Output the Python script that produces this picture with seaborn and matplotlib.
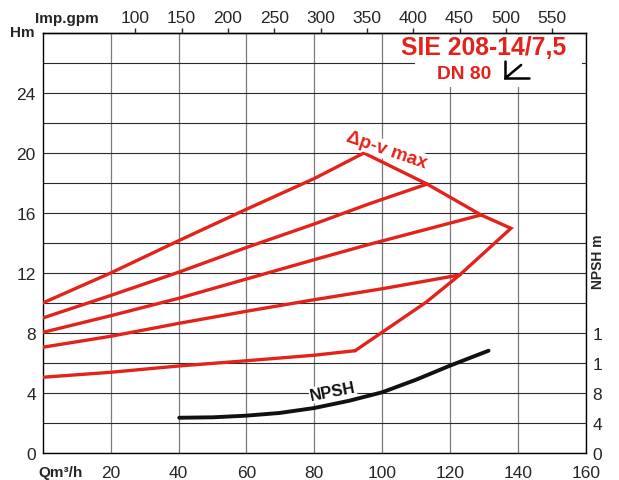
import numpy as np
import pandas as pd
import matplotlib
matplotlib.use("Agg")
import matplotlib.pyplot as plt
from matplotlib.patches import Rectangle
import seaborn as sns

# ---- pump curve data (flow in m3/h, head in m) ----
flow_10 = [0, 20, 40, 60, 80, 94.6]
head_10 = [10.0, 12.0, 14.15, 16.25, 18.3, 20.0]

flow_9 = [0, 20, 40, 60, 80, 96, 113.2]
head_9 = [9.0, 10.5, 12.05, 13.7, 15.27, 16.6, 17.93]

flow_8 = [0, 20, 40, 60, 80, 96, 129.1]
head_8 = [8.04, 9.15, 10.31, 11.6, 12.89, 13.9, 15.87]

flow_7 = [0, 20, 40, 60, 80, 100, 122.8]
head_7 = [7.05, 7.78, 8.64, 9.45, 10.22, 10.95, 11.87]

flow_5 = [0, 20, 40, 60, 80, 92.0]
head_5 = [5.05, 5.38, 5.8, 6.15, 6.52, 6.82]

# maximum curve (delta-p variable, max speed)
flow_max = [92.0, 99.2, 112.9, 122.8, 137.9, 129.1, 113.2, 94.6]
head_max = [6.82, 7.93, 10.05, 11.87, 14.98, 15.87, 17.93, 20.0]

# NPSH requirement (m)
flow_npsh = [40.2, 50.2, 60, 69.8, 80, 90.4, 100, 110, 119.9, 131.3]
npsh_m = [4.7, 4.76, 4.98, 5.34, 6.0, 6.98, 8.1, 9.78, 11.64, 13.64]

flow_ticks = [20, 40, 60, 80, 100, 120, 140, 160]
head_ticks = [0, 4, 8, 12, 16, 20, 24]
gpm_ticks = [100, 150, 200, 250, 300, 350, 400, 450, 500, 550]
npsh_ticks = [0, 4, 8, 12, 16]
npsh_tick_labels = ["0", "4", "8", "1", "1"]

GPM_PER_M3H = 3.666  # imperial gallons per minute in one m3/h

RED = "#e3231b"
TICK_FS = 12.5

sns.set_style("white")
plt.rcParams["font.family"] = ["Liberation Sans", "DejaVu Sans"]
plt.rcParams["axes.linewidth"] = 1.0

fig = plt.figure(figsize=(6.19, 4.81), dpi=100)
ax = fig.add_axes([42.7 / 619, 27 / 481, (586 - 42.7) / 619, (454 - 34) / 481])

curves = [(flow_10, head_10), (flow_9, head_9), (flow_8, head_8),
          (flow_7, head_7), (flow_5, head_5), (flow_max, head_max)]
for q, h in curves:
    df = pd.DataFrame({"Q": q, "H": h})
    sns.lineplot(data=df, x="Q", y="H", sort=False, estimator=None,
                 color=RED, lw=2.4, ax=ax, zorder=3, solid_joinstyle="miter")

ax.set_xlim(0, 160)
ax.set_ylim(0, 28)
ax.set_xticks(flow_ticks)
ax.set_xticklabels([str(v) for v in flow_ticks])
ax.set_yticks(head_ticks)
ax.set_yticks(np.arange(2, 28, 2), minor=True)
ax.set_xlabel("")
ax.set_ylabel("")
ax.tick_params(axis="x", length=0, pad=8.3, labelsize=TICK_FS)
ax.tick_params(axis="y", which="both", length=0, pad=5.0, labelsize=TICK_FS)
ax.set_axisbelow(True)
ax.grid(axis="x", which="major", color="#7a7a7a", lw=0.9)
ax.grid(axis="y", which="both", color="#2a2a2a", lw=0.8)
for s in ax.spines.values():
    s.set_color("black")
    s.set_linewidth(1.0)

# top axis in imperial gallons per minute
sec = ax.secondary_xaxis("top", functions=(lambda q: q * GPM_PER_M3H,
                                           lambda g: g / GPM_PER_M3H))
sec.set_xticks(gpm_ticks)
sec.set_xticklabels([str(v) for v in gpm_ticks])
sec.tick_params(direction="out", length=3.6, width=1.0, pad=2.3,
                labelsize=TICK_FS)

# right axis for NPSH
ax2 = ax.twinx()
df_npsh = pd.DataFrame({"Q": flow_npsh, "NPSH": npsh_m})
sns.lineplot(data=df_npsh, x="Q", y="NPSH", sort=False, estimator=None,
             color="#111111", lw=2.8, ax=ax2, zorder=3)
ax2.set_ylim(0, 56)
ax2.set_yticks(npsh_ticks)
ax2.set_yticklabels(npsh_tick_labels)
ax2.set_ylabel("")
ax2.tick_params(axis="y", length=0, pad=4.8, labelsize=TICK_FS)
ax2.grid(False)
for s in ax2.spines.values():
    s.set_visible(False)

# model designation
ax.add_patch(Rectangle((109.5, 24.4), 49.4, 3.45, facecolor="white",
                       edgecolor="none", zorder=2))
ax.text(129.8, 27.05, "SIE 208-14/7,5", color=RED, fontsize=17.8,
        fontweight="bold", ha="center", va="center", zorder=5)
ax.text(124.2, 25.33, "DN 80", color=RED, fontsize=13.8,
        fontweight="bold", ha="center", va="center", zorder=5)
ax.plot([143.3, 136.2, 136.2], [24.98, 24.98, 26.15], color="black",
        lw=1.8, solid_joinstyle="miter", zorder=5)
ax.plot([136.2, 140.9], [24.98, 25.87], color="black", lw=1.8, zorder=5)

# curve labels
ax.text(101.3, 20.2, "\u0394p-v max", color=RED, fontsize=13.5,
        fontweight="bold", rotation=-19, ha="center", va="center", zorder=5,
        rotation_mode="anchor",
        bbox=dict(facecolor="white", edgecolor="none", pad=0.5))
ax.text(85.4, 4.1, "NPSH", color="#111111", fontsize=12, fontweight="bold",
        rotation=11, ha="center", va="center", zorder=5, rotation_mode="anchor",
        bbox=dict(facecolor="white", edgecolor="none", pad=0.5))

# axis captions
fig.text(22 / 619, 1 - 33.3 / 481, "Hm", fontsize=11, fontweight="bold",
         ha="center", va="center")
fig.text(67 / 619, 1 - 19.5 / 481, "Imp.gpm", fontsize=11, fontweight="bold",
         ha="center", va="center")
fig.text(61 / 619, 1 - 473.5 / 481, "Qm\u00b3/h", fontsize=11,
         fontweight="bold", ha="center", va="center")
fig.text(598 / 619, 1 - 262 / 481, "NPSH m", fontsize=10, fontweight="bold",
         ha="center", va="center", rotation=90)

fig.savefig("out.png", dpi=100, facecolor="white")
